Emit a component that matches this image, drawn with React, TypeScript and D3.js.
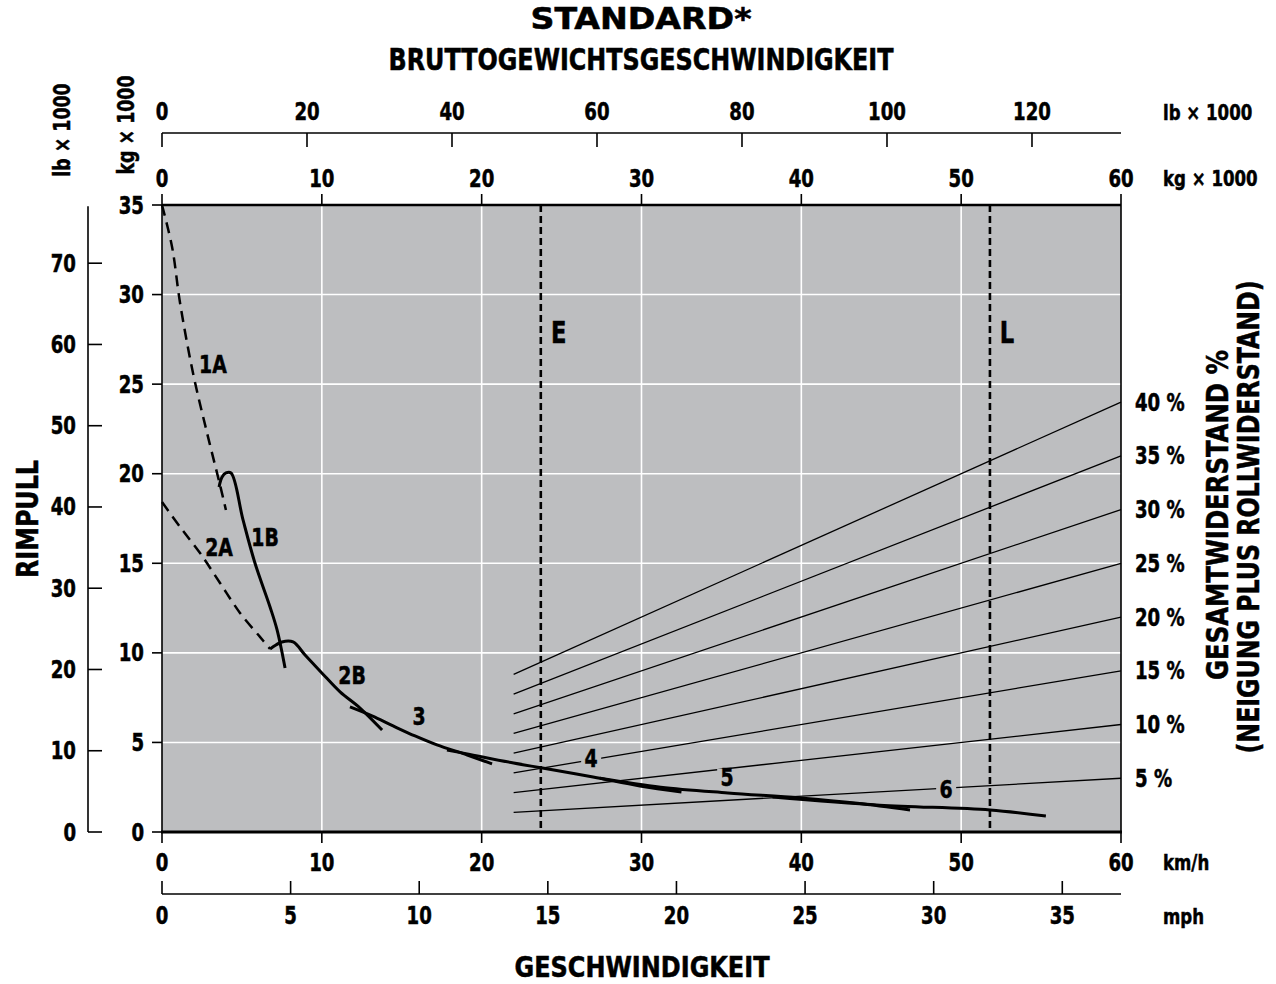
import React, { useEffect, useRef } from 'react';
import * as d3 from 'd3';

// axis ticks
const speedTicks = [0, 10, 20, 30, 40, 50, 60];
const mphTicks = [0, 5, 10, 15, 20, 25, 30, 35];
const weightKgTicks = [0, 10, 20, 30, 40, 50, 60];
const weightLbTicks = [0, 20, 40, 60, 80, 100, 120];
const rimpullKgTicks = [0, 5, 10, 15, 20, 25, 30, 35];
const rimpullLbTicks = [0, 10, 20, 30, 40, 50, 60, 70];

// total resistance lines (weight kg x1000 -> rimpull kg x1000)
const grades = [40, 35, 30, 25, 20, 15, 10, 5];
const gradeStartWeight = 22;
const gradeEndWeight = 60;
const gradeStartRimpull = [8.8, 7.7, 6.6, 5.5, 4.4, 3.3, 2.2, 1.1];
const gradeEndRimpull = [24, 21, 18, 15, 12, 9, 6, 3];

const emptyWeight = 23.7;
const loadedWeight = 51.8;

type Pt = [number, number];

// gear curves: [speed km/h, rimpull kg x1000]
const gear1A: Pt[] = [[0, 35], [0.63, 32.66], [1.13, 29.53], [1.94, 25.62], [2.82, 22.27], [3.63, 19.37], [4.0, 17.97]];
const gear1B: Pt[] = [[3.57, 19.26], [3.75, 19.8], [4.0, 20.04], [4.32, 20.04], [5.07, 17.42], [5.82, 15.0], [6.76, 12.56], [7.2, 11.28], [7.7, 9.15]];
const gear2A: Pt[] = [[0, 18.42], [1.13, 17.03], [2.38, 15.57], [3.63, 13.9], [4.88, 12.23], [6.13, 10.89], [6.76, 10.22]];
const gear2B: Pt[] = [[6.76, 10.22], [7.13, 10.44], [7.5, 10.61], [8.2, 10.61], [8.95, 9.88], [10.0, 8.88], [11.14, 7.82], [12.39, 6.92], [13.77, 5.69]];
const gear3: Pt[] = [[11.76, 6.98], [13.14, 6.48], [14.46, 5.92], [15.83, 5.36], [17.2, 4.86], [19.1, 4.3], [20.65, 3.8]];
const gear4: Pt[] = [[17.83, 4.58], [19.1, 4.36], [22.0, 3.85], [23.8, 3.57], [26.97, 3.07], [29.9, 2.57], [32.5, 2.23]];
const gear5: Pt[] = [[27.4, 3.0], [31.2, 2.5], [35.4, 2.18], [39.9, 1.9], [43.5, 1.6], [46.8, 1.23]];
const gear6: Pt[] = [[38.2, 1.95], [44.9, 1.5], [51.8, 1.23], [55.3, 0.89]];

const gearCurves: { name: string; points: Pt[] }[] = [
  { name: '1A', points: gear1A },
  { name: '1B', points: gear1B },
  { name: '2A', points: gear2A },
  { name: '2B', points: gear2B },
  { name: '3', points: gear3 },
  { name: '4', points: gear4 },
  { name: '5', points: gear5 },
  { name: '6', points: gear6 },
];
const dashedGears = ['1A', '2A'];

// gear label anchors [speed, rimpull]
const gearLabels: { text: string; at: Pt }[] = [
  { text: '1A', at: [3.19, 26.12] },
  { text: '1B', at: [6.45, 16.47] },
  { text: '2A', at: [3.57, 15.91] },
  { text: '2B', at: [11.89, 8.76] },
  { text: '3', at: [16.08, 6.48] },
  { text: '4', at: [26.85, 4.13] },
  { text: '5', at: [35.36, 3.07] },
  { text: '6', at: [49.06, 2.4] },
];
const labelsOnLines = ['4', '5', '6'];

const KG_TO_LB = 2.20462;
const KMH_TO_MPH = 1 / 1.609344;

const FONT = "'DejaVu Sans Condensed', 'Liberation Sans Narrow', 'Roboto Condensed', 'Liberation Sans', sans-serif";
const BG = '#bdbec0';
const SQUEEZE = 0.84;

const App: React.FC = () => {
  const svgRef = useRef<SVGSVGElement>(null);

  useEffect(() => {
    if (!svgRef.current) return;
    const svg = d3.select(svgRef.current);
    svg.selectAll('*').remove();

    const left = 162, right = 1121, top = 205, bottom = 832;

    const x = d3.scaleLinear().domain([0, 60]).range([left, right]);
    const xLb = d3.scaleLinear().domain([0, 60 * KG_TO_LB]).range([left, right]);
    const xMph = d3.scaleLinear().domain([0, 60 * KMH_TO_MPH]).range([left, right]);
    const y = d3.scaleLinear().domain([0, 35]).range([bottom, top]);
    const yLb = d3.scaleLinear().domain([0, 35 * KG_TO_LB]).range([bottom, top]);

    // condensed bold label; squeezed horizontally unless a fixed length is given
    const txt = (
      sx: number, sy: number, s: string,
      opt: { size?: number; anchor?: string; length?: number; rotate?: boolean } = {}
    ) => {
      const { size = 24, anchor = 'middle', length, rotate = false } = opt;
      const t = svg.append('text')
        .attr('font-family', FONT)
        .attr('font-weight', 700)
        .attr('font-size', size)
        .attr('text-anchor', anchor)
        .attr('fill', '#000')
        .attr('stroke', '#000')
        .attr('stroke-width', 0.5)
        .text(s);
      const squeeze = length ? '' : ` scale(${SQUEEZE},1)`;
      t.attr('transform', `translate(${sx},${sy})${rotate ? ' rotate(-90)' : ''}${squeeze}`);
      if (length) t.attr('textLength', length).attr('lengthAdjust', 'spacingAndGlyphs');
      return t;
    };

    // plot background
    svg.append('rect')
      .attr('x', left).attr('y', top)
      .attr('width', right - left).attr('height', bottom - top)
      .attr('fill', BG);

    // grid
    const grid = svg.append('g').attr('stroke', '#fff').attr('stroke-width', 1.6);
    speedTicks.slice(1, -1).forEach(v => {
      grid.append('line').attr('x1', x(v)).attr('x2', x(v)).attr('y1', top).attr('y2', bottom);
    });
    rimpullKgTicks.slice(1, -1).forEach(v => {
      grid.append('line').attr('x1', left).attr('x2', right).attr('y1', y(v)).attr('y2', y(v));
    });

    // frame
    svg.append('line').attr('x1', left).attr('x2', left).attr('y1', top).attr('y2', bottom)
      .attr('stroke', '#000').attr('stroke-width', 1.6);
    svg.append('line').attr('x1', right).attr('x2', right).attr('y1', top).attr('y2', bottom)
      .attr('stroke', '#000').attr('stroke-width', 1.6);
    svg.append('line').attr('x1', left).attr('x2', right).attr('y1', top).attr('y2', top)
      .attr('stroke', '#000').attr('stroke-width', 2.4);
    svg.append('line').attr('x1', left - 1).attr('x2', right + 1).attr('y1', bottom).attr('y2', bottom)
      .attr('stroke', '#000').attr('stroke-width', 2.8);

    const ticks = svg.append('g').attr('stroke', '#000').attr('stroke-width', 1.6);

    // top weight axes
    weightKgTicks.forEach(v => {
      ticks.append('line').attr('x1', x(v)).attr('x2', x(v)).attr('y1', top).attr('y2', top - 11);
      txt(x(v), 187, String(v));
    });
    ticks.append('line').attr('x1', left).attr('x2', right).attr('y1', 133).attr('y2', 133);
    weightLbTicks.forEach(v => {
      ticks.append('line').attr('x1', xLb(v)).attr('x2', xLb(v)).attr('y1', 133).attr('y2', 147);
      txt(xLb(v), 120, String(v));
    });

    // left rimpull axes
    rimpullKgTicks.forEach(v => {
      ticks.append('line').attr('x1', left - 10).attr('x2', left).attr('y1', y(v)).attr('y2', y(v));
      txt(144, y(v) + 8.5, String(v), { anchor: 'end' });
    });
    ticks.append('line').attr('x1', 88).attr('x2', 88).attr('y1', yLb(77)).attr('y2', bottom);
    rimpullLbTicks.forEach(v => {
      ticks.append('line').attr('x1', 88).attr('x2', 102).attr('y1', yLb(v)).attr('y2', yLb(v));
      txt(76, yLb(v) + 8.5, String(v), { anchor: 'end' });
    });

    // bottom speed axes
    speedTicks.forEach(v => {
      ticks.append('line').attr('x1', x(v)).attr('x2', x(v)).attr('y1', bottom).attr('y2', bottom + 11);
      txt(x(v), 871, String(v));
    });
    ticks.append('line').attr('x1', left).attr('x2', right).attr('y1', 894).attr('y2', 894);
    mphTicks.forEach(v => {
      ticks.append('line').attr('x1', xMph(v)).attr('x2', xMph(v)).attr('y1', 894).attr('y2', 881);
      txt(xMph(v), 924, String(v));
    });

    // total resistance lines
    const gradeG = svg.append('g').attr('stroke', '#000').attr('stroke-width', 1.3);
    grades.forEach((g, i) => {
      gradeG.append('line')
        .attr('x1', x(gradeStartWeight)).attr('y1', y(gradeStartRimpull[i]))
        .attr('x2', x(gradeEndWeight)).attr('y2', y(gradeEndRimpull[i]));
      txt(1135, y(gradeEndRimpull[i]) + 8.5, `${g} %`, { anchor: 'start' });
    });

    // empty / loaded weight
    [emptyWeight, loadedWeight].forEach(w => {
      svg.append('line')
        .attr('x1', x(w)).attr('x2', x(w)).attr('y1', top).attr('y2', bottom)
        .attr('stroke', '#000').attr('stroke-width', 2.6).attr('stroke-dasharray', '7,4');
    });
    txt(x(emptyWeight) + 18, y(27.9) + 11, 'E', { size: 30 });
    txt(x(loadedWeight) + 17, y(27.9) + 11, 'L', { size: 30 });

    // gear curves
    const line = d3.line<Pt>()
      .x(d => x(d[0]))
      .y(d => y(d[1]))
      .curve(d3.curveCatmullRom.alpha(0.5));
    svg.append('g')
      .selectAll('path')
      .data(gearCurves)
      .enter()
      .append('path')
      .attr('d', d => line(d.points))
      .attr('fill', 'none')
      .attr('stroke', '#000')
      .attr('stroke-width', d => dashedGears.includes(d.name) ? 2.5 : 3)
      .attr('stroke-dasharray', d => dashedGears.includes(d.name) ? '11,7' : null)
      .attr('stroke-linecap', 'butt');

    // gear labels
    gearLabels.forEach(l => {
      const cx = x(l.at[0]), cy = y(l.at[1]);
      if (labelsOnLines.includes(l.text)) {
        svg.append('rect')
          .attr('x', cx - 10).attr('y', cy - 8)
          .attr('width', 20).attr('height', 14)
          .attr('fill', BG);
      }
      txt(cx, cy + 9, l.text, { size: 25 });
    });

    // titles
    txt(641, 29, 'STANDARD*', { size: 30, length: 221 });
    txt(641, 70, 'BRUTTOGEWICHTSGESCHWINDIGKEIT', { size: 30, length: 505 });
    txt(642, 977, 'GESCHWINDIGKEIT', { size: 28, length: 255 });
    txt(38, 519, 'RIMPULL', { size: 30, length: 118, rotate: true });
    txt(1228, 515, 'GESAMTWIDERSTAND %', { size: 30, length: 330, rotate: true });
    txt(1259, 517, '(NEIGUNG PLUS ROLLWIDERSTAND)', { size: 30, length: 473, rotate: true });

    // unit labels
    txt(70, 130, 'lb × 1000', { size: 23, rotate: true });
    txt(134, 125, 'kg × 1000', { size: 23, rotate: true });
    txt(1163, 120, 'lb × 1000', { size: 22, anchor: 'start' });
    txt(1163, 186, 'kg × 1000', { size: 22, anchor: 'start' });
    txt(1163, 870, 'km/h', { size: 22, anchor: 'start' });
    txt(1163, 924, 'mph', { size: 22, anchor: 'start' });
  }, []);

  return (
    <svg
      ref={svgRef}
      width={1276}
      height={984}
      viewBox="0 0 1276 984"
      style={{ position: 'absolute', left: 0, top: 0, background: '#fff' }}
    />
  );
};

export default App;
